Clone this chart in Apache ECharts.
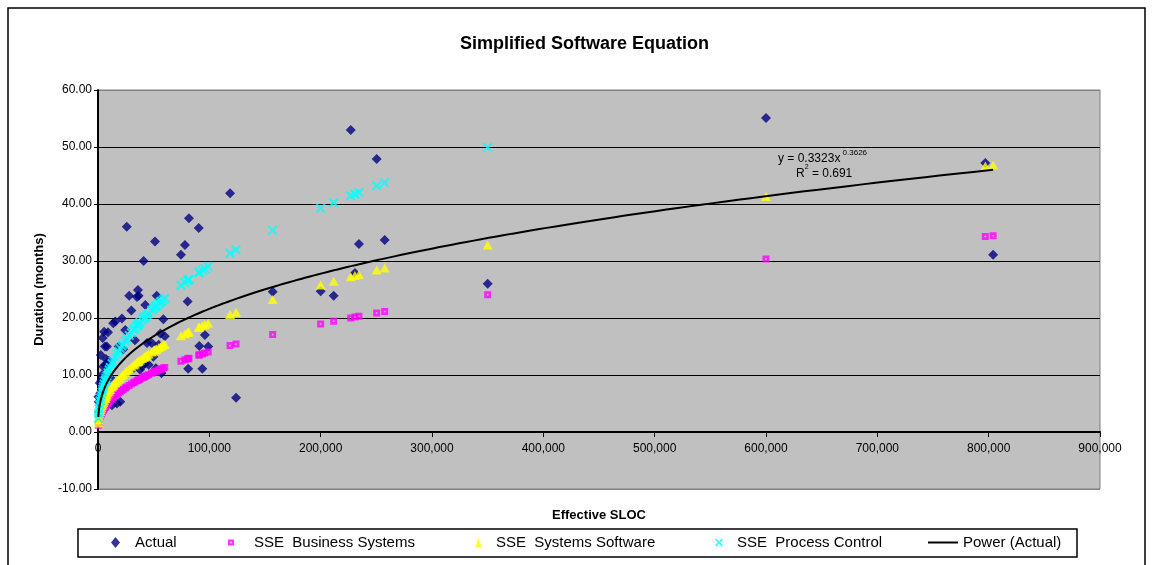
<!DOCTYPE html>
<html>
<head>
<meta charset="utf-8">
<title>Simplified Software Equation</title>
<script src="https://cdn.jsdelivr.net/npm/echarts@6/dist/echarts.min.js"></script>
<style>
  html, body { margin: 0; padding: 0; background: #ffffff; }
  #chart { width: 1153px; height: 565px; }
</style>
</head>
<body>
<div id="chart"></div>
<script>
// Project sizes (effective SLOC) shared by all series
const SLOC = [300,600,1000,1500,2000,2500,3000,3600,4200,4800,
  5500,6300,6600,7200,8000,9000,10000,11000,12600,13700,
  15500,17000,18500,20000,21500,22700,24500,25800,28000,30000,
  32000,33200,35000,35900,36500,37700,39500,41000,42000,42500,
  44000,45500,48200,49700,51200,52000,52700,54500,56000,57000,
  58700,60000,74500,78100,80500,81000,81700,90500,91000,93700,
  96000,99000,118600,124000,156900,200000,211700,227000,230800,234400,
  250300,257500,350000,600000,797000,804000];

// Actual durations (months)
const ACTUAL = [6.2,5.3,3.5,8.6,6.8,13.5,9.0,10.0,16.5,11.5,
  17.6,15.0,11.8,12.8,15.0,17.5,12.5,9.5,4.7,19.1,
  19.4,5.0,15.0,5.3,19.9,14.5,17.9,36.0,23.9,21.3,
  11.2,16.1,23.7,24.9,23.9,10.9,11.5,30.0,12.0,22.3,
  15.6,11.8,15.6,13.2,33.4,11.2,23.9,15.3,17.3,10.3,
  19.8,16.8,31.1,32.8,22.9,11.1,37.5,35.8,15.1,11.1,
  17.0,15.0,41.9,6.0,24.6,24.7,23.9,53.0,27.9,33.0,
  47.9,33.7,26.0,55.1,47.2,31.1];

// SSE estimates per application class (months); null = above the axis range
const SSE_BUSINESS = [1.17,1.57,1.96,2.33,2.63,2.90,3.14,3.39,3.62,3.83,
  4.07,4.31,4.39,4.56,4.77,5.02,5.25,5.47,5.80,6.01,
  6.34,6.59,6.84,7.07,7.29,7.46,7.71,7.88,8.17,8.41,
  8.64,8.78,8.98,9.08,9.15,9.27,9.46,9.61,9.71,9.76,
  9.91,10.05,10.31,10.44,10.58,10.65,10.71,10.86,10.99,11.07,
  11.21,11.32,12.42,12.67,12.84,12.87,12.92,13.50,13.53,13.70,
  13.84,14.03,15.16,15.45,17.09,18.96,19.43,20.02,20.16,20.30,
  20.88,21.13,24.10,30.36,34.29,34.42];

const SSE_SYSTEMS = [1.59,2.14,2.66,3.17,3.58,3.95,4.27,4.61,4.93,5.22,
  5.53,5.86,5.98,6.21,6.49,6.83,7.15,7.45,7.89,8.18,
  8.62,8.97,9.31,9.62,9.92,10.15,10.49,10.73,11.11,11.44,
  11.77,11.95,12.23,12.36,12.45,12.62,12.88,13.08,13.22,13.29,
  13.49,13.68,14.03,14.21,14.39,14.49,14.57,14.78,14.95,15.07,
  15.26,15.40,16.90,17.25,17.47,17.52,17.58,18.37,18.41,18.65,
  18.84,19.09,20.63,21.02,23.26,25.81,26.44,27.25,27.44,27.62,
  28.41,28.76,32.80,41.32,46.67,46.85];

const SSE_PROCESS = [2.42,3.25,4.05,4.82,5.45,6.00,6.49,7.02,7.50,7.94,
  8.42,8.92,9.10,9.45,9.88,10.39,10.87,11.33,12.01,12.45,
  13.12,13.65,14.16,14.64,15.10,15.45,15.96,16.32,16.91,17.41,
  17.90,18.18,18.60,18.81,18.94,19.20,19.59,19.91,20.11,20.22,
  20.52,20.81,21.34,21.62,21.90,22.04,22.17,22.49,22.75,22.92,
  23.21,23.43,25.71,26.24,26.58,26.65,26.75,27.95,28.01,28.37,
  28.66,29.05,31.38,31.99,35.38,39.26,40.23,41.45,41.75,42.03,
  43.22,43.75,49.90,null,null,null];

// Power trendline fitted to the actual durations: y = a * x^b
const TREND_A = 0.3323;
const TREND_B = 0.3626;
const TREND_R2 = '0.691';

const SERIES_NAMES = ['Actual', 'SSE  Business Systems', 'SSE  Systems Software', 'SSE  Process Control', 'Power (Actual)'];
const Y_TICKS = [-10, 60, 10];
const X_TICKS = [0, 900000, 100000];

const FONT = '"Liberation Sans", Arial, Helvetica, sans-serif';

function pairs(values) {
  const out = [];
  SLOC.forEach((x, i) => { if (values[i] != null) out.push([x, values[i]]); });
  return out;
}

// Trendline sampled over the range of the data
function trendPoints() {
  const lo = Math.min(...SLOC), hi = Math.max(...SLOC);
  const pts = [];
  const n = 400;
  for (let i = 0; i <= n; i++) {
    const x = lo * Math.pow(hi / lo, i / n);
    pts.push([x, TREND_A * Math.pow(x, TREND_B)]);
  }
  return pts;
}

const DIAMOND = 'diamond';
const SQUARE_HOLE = 'path://M0,0H7V7H0Z M2.7,2.7V4.3H4.3V2.7Z';
const CROSS = 'path://M0,1.5L1.5,0L5,3.5L8.5,0L10,1.5L6.5,5L10,8.5L8.5,10L5,6.5L1.5,10L0,8.5L3.5,5Z';

const chart = echarts.init(document.getElementById('chart'), null, { renderer: 'canvas' });

function legendAt(left, name, icon, w, h, gap) {
  return {
    left: left, top: 535, padding: 0,
    itemWidth: w, itemHeight: h, itemGap: 0,
    data: [{ name: name, icon: icon }],
    selectedMode: false,
    textStyle: { fontFamily: FONT, fontSize: 15, color: '#000', padding: [0, 0, 0, gap] }
  };
}

const option = {
  animation: false,
  backgroundColor: '#ffffff',
  textStyle: { fontFamily: FONT },
  title: {
    text: 'Simplified Software Equation',
    left: 455,
    top: 30,
    textStyle: { fontFamily: FONT, fontSize: 18, fontWeight: 'bold', color: '#000' }
  },
  legend: [
    legendAt(111, SERIES_NAMES[0], DIAMOND, 9, 11, 10),
    legendAt(228, SERIES_NAMES[1], SQUARE_HOLE, 6, 8, 15),
    legendAt(475, SERIES_NAMES[2], 'triangle', 7, 10, 9),
    legendAt(715, SERIES_NAMES[3], CROSS, 8, 9, 9),
    legendAt(928, SERIES_NAMES[4], 'rect', 30, 2, 0)
  ],
  grid: {
    left: 98, right: 53, top: 90, bottom: 76,
    outerBoundsMode: 'none',
    containLabel: false,
    show: true,
    backgroundColor: '#C0C0C0',
    borderColor: '#808080',
    borderWidth: 1
  },
  xAxis: {
    type: 'value',
    min: X_TICKS[0], max: X_TICKS[1], interval: X_TICKS[2],
    name: 'Effective SLOC',
    nameLocation: 'middle',
    nameGap: 20,
    nameTextStyle: { fontFamily: FONT, fontSize: 13, fontWeight: 'bold', color: '#000' },
    axisLine: { show: true, onZero: true, lineStyle: { color: '#000', width: 2 } },
    axisTick: { show: true, inside: false, length: 5, lineStyle: { color: '#000', width: 1 } },
    axisLabel: {
      color: '#000', fontSize: 12, fontFamily: FONT, margin: -46,
      showMinLabel: true, showMaxLabel: true,
      formatter: v => v === 0 ? '0' : v.toLocaleString('en-US')
    },
    splitLine: { show: false }
  },
  yAxis: {
    type: 'value',
    min: Y_TICKS[0], max: Y_TICKS[1], interval: Y_TICKS[2],
    name: 'Duration (months)',
    nameLocation: 'middle',
    nameGap: 52,
    nameTextStyle: { fontFamily: FONT, fontSize: 13, fontWeight: 'bold', color: '#000' },
    axisLine: { show: true, onZero: false, lineStyle: { color: '#000', width: 2 } },
    axisTick: { show: true, inside: false, length: 4, lineStyle: { color: '#000', width: 1 } },
    axisLabel: {
      color: '#000', fontSize: 12, fontFamily: FONT, margin: 6,
      formatter: v => v.toFixed(2)
    },
    splitLine: {
      show: true,
      lineStyle: { color: ['#808080', '#000', '#000', '#000', '#000', '#000', '#000', '#808080'], width: 1 }
    }
  },
  graphic: [
    {
      type: 'rect', z: -10, silent: true,
      shape: { x: 8, y: 8, width: 1137, height: 600 },
      style: { fill: '#ffffff', stroke: '#000', lineWidth: 1.5 }
    },
    {
      type: 'rect', z: -5, silent: true,
      shape: { x: 78, y: 529, width: 999, height: 28 },
      style: { fill: '#ffffff', stroke: '#000', lineWidth: 1.5 }
    },
    {
      type: 'text', z: 100, silent: true,
      left: 778, top: 149,
      style: {
        text: '{a|y = 0.3323x}{s| 0.3626}',
        rich: {
          a: { fontFamily: FONT, fontSize: 12, fill: '#000', lineHeight: 16, verticalAlign: 'bottom' },
          s: { fontFamily: FONT, fontSize: 8, fill: '#000', lineHeight: 16, verticalAlign: 'top' }
        }
      }
    },
    {
      type: 'text', z: 100, silent: true,
      left: 796, top: 164,
      style: {
        text: '{a|R}{s|2}{a| = ' + TREND_R2 + '}',
        rich: {
          a: { fontFamily: FONT, fontSize: 12, fill: '#000', lineHeight: 16, verticalAlign: 'bottom' },
          s: { fontFamily: FONT, fontSize: 7, fill: '#000', lineHeight: 16, verticalAlign: 'top' }
        }
      }
    }
  ],
  series: [
    {
      name: SERIES_NAMES[0], type: 'scatter',
      symbol: DIAMOND, symbolSize: [10, 10],
      itemStyle: { color: '#000080' },
      data: pairs(ACTUAL)
    },
    {
      name: SERIES_NAMES[1], type: 'scatter',
      symbol: SQUARE_HOLE, symbolSize: [7, 7],
      itemStyle: { color: '#FF00FF' },
      data: pairs(SSE_BUSINESS)
    },
    {
      name: SERIES_NAMES[2], type: 'scatter',
      symbol: 'triangle', symbolSize: [10, 9],
      itemStyle: { color: '#FFFF00' },
      data: pairs(SSE_SYSTEMS)
    },
    {
      name: SERIES_NAMES[3], type: 'scatter',
      symbol: CROSS, symbolSize: [10, 10],
      itemStyle: { color: '#00FFFF' },
      data: pairs(SSE_PROCESS)
    },
    {
      name: SERIES_NAMES[4], type: 'line',
      symbol: 'none', smooth: false,
      lineStyle: { color: '#000', width: 2 },
      itemStyle: { color: '#000' },
      data: trendPoints()
    }
  ]
};

chart.setOption(option);
</script>
</body>
</html>
